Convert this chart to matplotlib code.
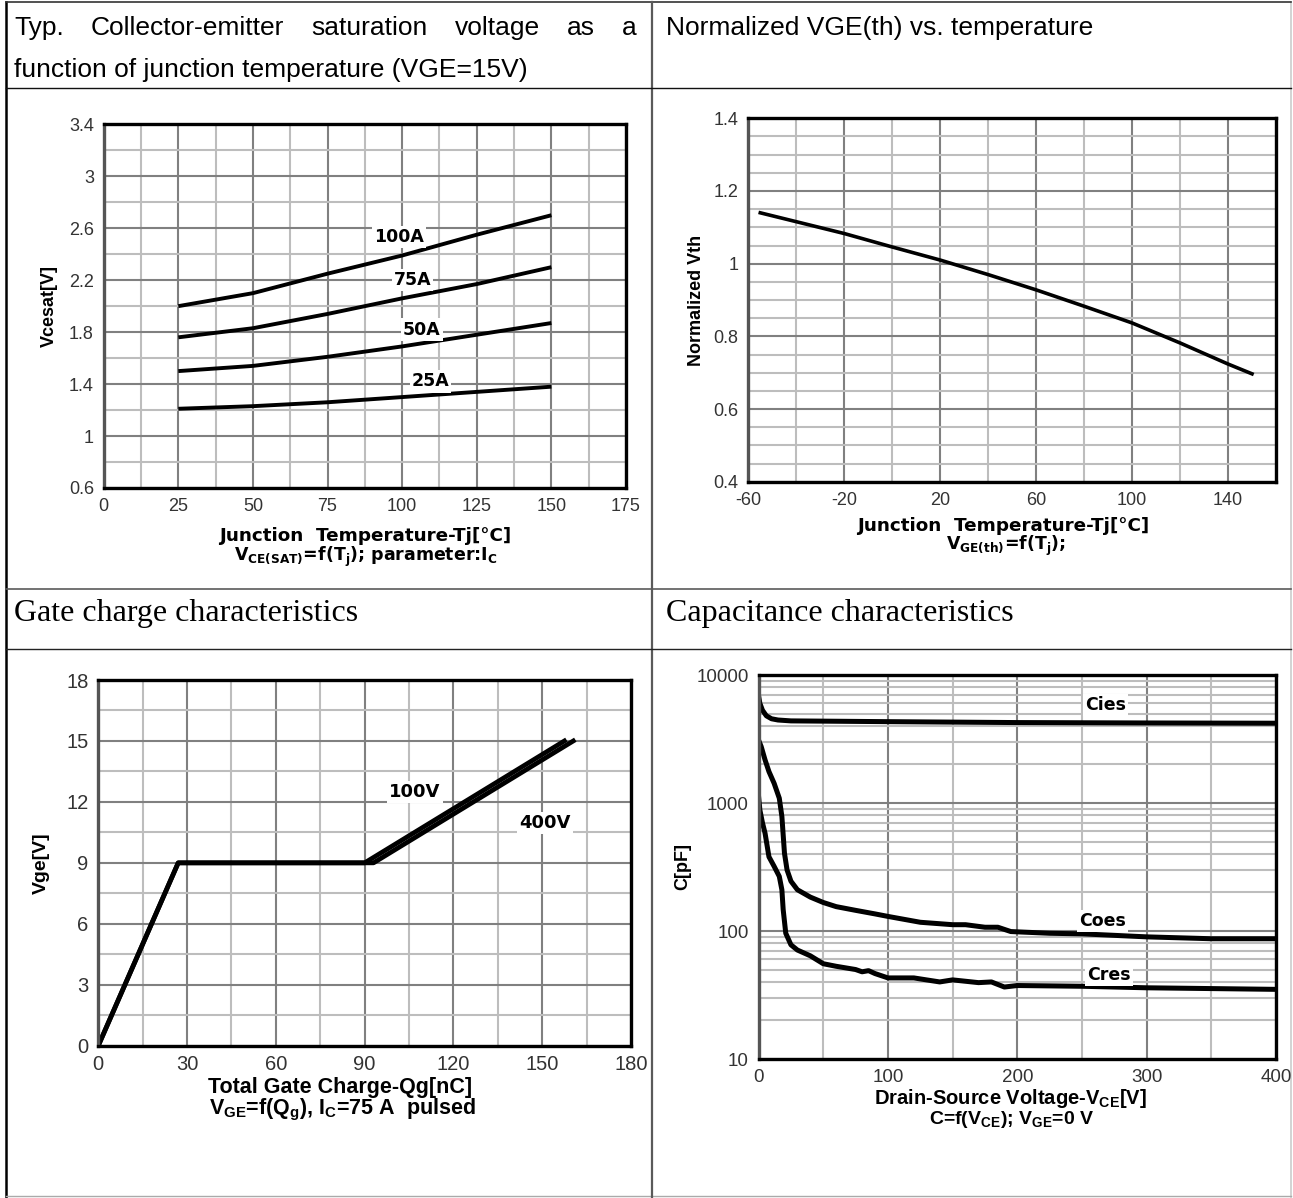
import numpy as np
import matplotlib
matplotlib.use("Agg")
import matplotlib.pyplot as plt
from matplotlib.ticker import MultipleLocator, FixedLocator, NullFormatter, FuncFormatter

plt.rcParams['font.family'] = ['Liberation Sans', 'DejaVu Sans']
plt.rcParams['axes.unicode_minus'] = False
plt.rcParams['mathtext.fontset'] = 'custom'
plt.rcParams['mathtext.rm'] = 'Liberation Sans:bold'
plt.rcParams['mathtext.it'] = 'Liberation Sans:bold'
plt.rcParams['mathtext.bf'] = 'Liberation Sans:bold'

# --- data ---
# Vcesat vs Tj, parameter Ic
tj_sat = [25, 50, 75, 100, 125, 150]
vce_100a = [2.00, 2.10, 2.25, 2.39, 2.55, 2.70]
vce_75a = [1.76, 1.83, 1.94, 2.06, 2.17, 2.30]
vce_50a = [1.50, 1.54, 1.61, 1.69, 1.78, 1.87]
vce_25a = [1.21, 1.23, 1.26, 1.30, 1.34, 1.38]
sat_labels = ["100A", "75A", "50A", "25A"]
sat_label_pos = [(99, 2.535), (103.5, 2.20), (106.5, 1.82), (109.5, 1.42)]

# normalized Vth vs Tj
tj_th = [-55, -20, 0, 20, 40, 60, 80, 100, 120, 140, 150]
vth_norm = [1.14, 1.083, 1.046, 1.010, 0.970, 0.928, 0.883, 0.837, 0.782, 0.724, 0.697]

# gate charge
qg_100v = [0, 27, 90, 157.5]
vge_100v = [0, 9, 9, 15]
qg_400v = [0, 27, 93, 160.5]
vge_400v = [0, 9, 9, 15]
gate_labels = ["100V", "400V"]
gate_label_pos = [(107, 12.5), (151, 10.95)]

# capacitances vs Vce
v_cies = [0, 1, 3, 6, 10, 15, 25, 50, 100, 200, 300, 400]
c_cies = [6850, 6000, 5300, 4800, 4550, 4450, 4380, 4360, 4320, 4250, 4220, 4200]
v_coes = [0, 2, 5, 8, 12, 16, 18, 20, 22, 25, 30, 40, 50, 60, 75, 90, 100, 125, 150, 160,
          175, 185, 195, 225, 250, 300, 350, 400]
c_coes = [3100, 2760, 2170, 1760, 1425, 1090, 785, 405, 300, 245, 210, 184, 167, 155, 145,
          136, 130, 117, 112, 112, 107, 107, 99, 96, 95, 90, 87, 87]
v_cres = [0, 1, 3, 5, 8, 12, 16, 18, 19, 21, 25, 30, 40, 50, 60, 75, 80, 85, 90, 100, 120,
          140, 150, 170, 180, 190, 200, 250, 300, 400]
c_cres = [1120, 880, 700, 580, 380, 320, 267, 210, 147, 96, 78, 71, 64, 55.5, 53, 50, 48,
          49, 46.5, 43, 43, 40, 41.5, 39.5, 40, 36.5, 37.5, 37, 36, 35]
cap_labels = ["Cies", "Coes", "Cres"]
cap_label_pos = [(268, 5800), (266, 119), (271, 45)]

W, H = 1293, 1198
fig = plt.figure(figsize=(W / 100, H / 100), dpi=100)

# table frame drawn in pixel coordinates
frame = fig.add_axes([0, 0, 1, 1], zorder=-5)
frame.set_xlim(0, W)
frame.set_ylim(H, 0)
frame.axis('off')
frame.plot([6, 6], [2, 1197], color='black', lw=1.8)
frame.plot([1291, 1291], [2, 1197], color='#cccccc', lw=1.2)
frame.plot([6, 1291], [2, 2], color='#333333', lw=1.2)
frame.plot([6, 1291], [1196, 1196], color='#aaaaaa', lw=1.0)
frame.plot([652, 652], [2, 1197], color='#5a5a5a', lw=1.6)
frame.plot([6, 1291], [88, 88], color='#111111', lw=1.0)
frame.plot([6, 1291], [589, 589], color='#5a5a5a', lw=1.2)
frame.plot([6, 1291], [649, 649], color='#222222', lw=1.0)

title_font = ['Liberation Sans', 'DejaVu Sans']
serif = ['Liberation Serif', 'DejaVu Serif']


def justified(ax, words, x0, x1, y, **kw):
    r = fig.canvas.get_renderer()
    arts = [ax.text(0, y, w, va='center', ha='left', **kw) for w in words]
    widths = [a.get_window_extent(r).width for a in arts]
    gap = (x1 - x0 - sum(widths)) / (len(words) - 1)
    x = x0
    for a, w in zip(arts, widths):
        a.set_x(x)
        x += w + gap


justified(frame, "Typ. Collector-emitter saturation voltage as a".split(), 14, 637, 28,
          family=title_font, fontsize=19)
frame.text(14, 70, "function of junction temperature (VGE=15V)", va='center', ha='left',
           family=title_font, fontsize=19)
frame.text(666, 28, "Normalized VGE(th) vs. temperature", va='center', ha='left',
           family=title_font, fontsize=19)
frame.text(14, 614, "Gate charge characteristics", va='center', ha='left',
           family=serif, fontsize=23)
frame.text(666, 614, "Capacitance characteristics", va='center', ha='left',
           family=serif, fontsize=23)


def make_axes(x0, x1, y0, y1):
    return fig.add_axes([x0 / W, 1 - y1 / H, (x1 - x0) / W, (y1 - y0) / H])


def style(ax, tick_size=13):
    for side in ['top', 'right', 'bottom']:
        ax.spines[side].set_color('black')
        ax.spines[side].set_linewidth(2.4)
    ax.spines['left'].set_color('#555555')
    ax.spines['left'].set_linewidth(2.4)
    ax.tick_params(which='both', length=0, labelsize=tick_size, colors='#333333', pad=7)
    ax.grid(which='major', color='#808080', lw=1.5)
    ax.grid(which='minor', color='#bdbdbd', lw=1.5)
    ax.set_axisbelow(True)


gfmt = FuncFormatter(lambda v, p: f"{v:g}")
lbl_box = dict(facecolor='white', edgecolor='none', pad=1.5)
wide_bold = dict(family=['DejaVu Sans'], fontweight='bold')
wide_math = dict(family=['DejaVu Sans'], fontweight='bold', math_fontfamily='dejavusans')

# ---- plot 1 ----
ax1 = make_axes(103.7, 626, 124.3, 488)
style(ax1)
ax1.set_xlim(0, 175)
ax1.set_ylim(0.6, 3.4)
ax1.xaxis.set_major_locator(MultipleLocator(25))
ax1.xaxis.set_minor_locator(MultipleLocator(12.5))
ax1.yaxis.set_major_locator(FixedLocator(np.arange(0.6, 3.41, 0.4)))
ax1.yaxis.set_minor_locator(MultipleLocator(0.2))
ax1.yaxis.set_major_formatter(gfmt)
for ys in [vce_100a, vce_75a, vce_50a, vce_25a]:
    ax1.plot(tj_sat, ys, color='black', lw=2.8, solid_capstyle='butt')
for t, (x, y) in zip(sat_labels, sat_label_pos):
    ax1.text(x, y, t, ha='center', va='center', fontsize=12.5, bbox=lbl_box, **wide_bold)
ax1.set_ylabel("Vcesat[V]", fontsize=13, fontweight='bold', labelpad=8)
fig.text(365 / W, 1 - 536 / H, "Junction  Temperature-Tj[\u00b0C]", ha='center', va='center',
         fontsize=13.2, **wide_bold)
fig.text(366 / W, 1 - 557 / H,
         r"V$_{\mathbf{CE(SAT)}}$=f(T$_{\mathbf{j}}$); parameter:I$_{\mathbf{C}}$",
         ha='center', va='center', fontsize=12.5, **wide_math)

# ---- plot 2 ----
ax2 = make_axes(748.3, 1276, 118.3, 481.8)
style(ax2)
ax2.set_xlim(-60, 160)
ax2.set_ylim(0.4, 1.4)
ax2.xaxis.set_major_locator(FixedLocator([-60, -20, 20, 60, 100, 140]))
ax2.xaxis.set_minor_locator(FixedLocator([-40, 0, 40, 80, 120, 160]))
ax2.yaxis.set_major_locator(FixedLocator(np.arange(0.4, 1.41, 0.2)))
ax2.yaxis.set_minor_locator(MultipleLocator(0.05))
ax2.yaxis.set_major_formatter(gfmt)
ax2.plot(tj_th, vth_norm, color='black', lw=2.6)
ax2.set_ylabel("Normalized Vth", fontsize=13, fontweight='bold', labelpad=6)
fig.text(1003 / W, 1 - 526 / H, "Junction  Temperature-Tj[\u00b0C]", ha='center', va='center',
         fontsize=13.2, **wide_bold)
fig.text(1006 / W, 1 - 546 / H, r"V$_{\mathbf{GE(th)}}$=f(T$_{\mathbf{j}}$);",
         ha='center', va='center', fontsize=12.5, **wide_math)

# ---- plot 3 ----
ax3 = make_axes(98.3, 631, 680, 1045.7)
style(ax3, tick_size=14.5)
ax3.set_xlim(0, 180)
ax3.set_ylim(0, 18)
ax3.xaxis.set_major_locator(MultipleLocator(30))
ax3.xaxis.set_minor_locator(MultipleLocator(15))
ax3.yaxis.set_major_locator(MultipleLocator(3))
ax3.yaxis.set_minor_locator(MultipleLocator(1.5))
ax3.plot(qg_400v, vge_400v, color='black', lw=3.4)
ax3.plot(qg_100v, vge_100v, color='black', lw=3.4)
for t, (x, y) in zip(gate_labels, gate_label_pos):
    ax3.text(x, y, t, ha='center', va='center', fontsize=13, bbox=lbl_box, **wide_bold)
ax3.set_ylabel("Vge[V]", fontsize=14, fontweight='bold', labelpad=12)
fig.text(340 / W, 1 - 1088 / H, "Total Gate Charge-Qg[nC]", ha='center', va='center',
         fontsize=15.5, fontweight='bold')
fig.text(342 / W, 1 - 1110 / H,
         r"V$_{\mathrm{GE}}$=f(Q$_{\mathrm{g}}$), I$_{\mathrm{C}}$=75 A  pulsed",
         ha='center', va='center', fontsize=15.5, fontweight='bold')

# ---- plot 4 ----
ax4 = make_axes(758.6, 1276, 675, 1059)
style(ax4, tick_size=13.5)
ax4.set_yscale('log')
ax4.set_xlim(0, 400)
ax4.set_ylim(10, 10000)
ax4.xaxis.set_major_locator(MultipleLocator(100))
ax4.xaxis.set_minor_locator(MultipleLocator(50))
ax4.yaxis.set_major_locator(FixedLocator([10, 100, 1000, 10000]))
ax4.yaxis.set_minor_locator(FixedLocator([m * d for d in [10, 100, 1000] for m in range(2, 10)]))
ax4.yaxis.set_major_formatter(FuncFormatter(lambda v, p: f"{v:.0f}"))
ax4.yaxis.set_minor_formatter(NullFormatter())
for xs, ys in [(v_cies, c_cies), (v_coes, c_coes), (v_cres, c_cres)]:
    ax4.plot(xs, ys, color='black', lw=3.6, solid_joinstyle='round')
for t, (x, y) in zip(cap_labels, cap_label_pos):
    ax4.text(x, y, t, ha='center', va='center', fontsize=12.5, bbox=lbl_box, **wide_bold)
ax4.set_ylabel("C[pF]", fontsize=13, fontweight='bold', labelpad=4)
fig.text(1010 / W, 1 - 1099 / H, r"Drain-Source Voltage-V$_{\mathrm{CE}}$[V]", ha='center',
         va='center', fontsize=14.5, fontweight='bold')
fig.text(1012 / W, 1 - 1120 / H, r"C=f(V$_{\mathrm{CE}}$); V$_{\mathrm{GE}}$=0 V", ha='center',
         va='center', fontsize=14, fontweight='bold')

fig.savefig("out.png", dpi=100)
